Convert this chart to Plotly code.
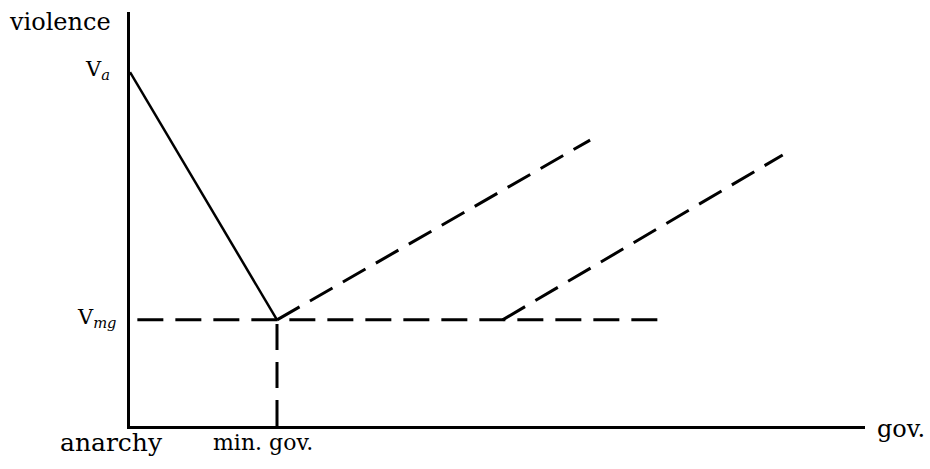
import plotly.graph_objects as go

# Abstract data units
V_A = 10.0          # violence under anarchy
V_MG = 3.0          # violence under minimal government
MIN_GOV = 2.0       # government level of the minimal state
X_MAX = 10.0
Y_MAX = 11.7

# solid segment: anarchy -> minimal government
solid_x = [0.0, MIN_GOV]
solid_y = [V_A, V_MG]

# dashed: rising right after minimal government
rise1_x = [MIN_GOV, 6.26]
rise1_y = [V_MG, 8.08]

# dashed: flat at V_mg
flat_x = [0.1, 7.25]
flat_y = [V_MG, V_MG]

# dashed: rising later
rise2_x = [5.07, 8.88]
rise2_y = [V_MG, 7.66]

# dashed drop line from minimal government
drop_x = [MIN_GOV, MIN_GOV]
drop_y = [0.0, V_MG]

SERIF = "DejaVu Serif"
DASH = "26px,12px"

fig = go.Figure()
fig.add_trace(go.Scatter(x=solid_x, y=solid_y, mode="lines",
                         line=dict(color="black", width=2.5)))
for xs, ys in [(rise1_x, rise1_y), (flat_x, flat_y), (rise2_x, rise2_y), (drop_x, drop_y)]:
    fig.add_trace(go.Scatter(x=xs, y=ys, mode="lines",
                             line=dict(color="black", width=3, dash=DASH)))

ann = []
ann.append(dict(x=0, y=Y_MAX, xref="x", yref="y", text="violence", showarrow=False,
                xanchor="right", yanchor="middle", xshift=-17, yshift=-10,
                font=dict(family=SERIF, size=24, color="black")))
ann.append(dict(x=0, y=V_A, xref="x", yref="y", text="V<sub><i>a</i></sub>", showarrow=False,
                xanchor="right", yanchor="middle", xshift=-18, yshift=2,
                font=dict(family=SERIF, size=21, color="black")))
ann.append(dict(x=0, y=V_MG, xref="x", yref="y", text="V<sub><i>mg</i></sub>", showarrow=False,
                xanchor="right", yanchor="middle", xshift=-11, yshift=2,
                font=dict(family=SERIF, size=21, color="black")))
ann.append(dict(x=0, y=0, xref="x", yref="y", text="anarchy", showarrow=False,
                xanchor="center", yanchor="middle", xshift=-19, yshift=-16,
                font=dict(family=SERIF, size=25, color="black")))
ann.append(dict(x=MIN_GOV, y=0, xref="x", yref="y", text="min. gov.", showarrow=False,
                xanchor="center", yanchor="middle", xshift=-14, yshift=-16,
                font=dict(family=SERIF, size=22, color="black")))
ann.append(dict(x=X_MAX, y=0, xref="x", yref="y", text="gov.", showarrow=False,
                xanchor="left", yanchor="middle", xshift=10, yshift=-3,
                font=dict(family=SERIF, size=24, color="black")))

fig.update_layout(
    width=930, height=469,
    margin=dict(l=130, r=65, t=12, b=43),
    paper_bgcolor="white", plot_bgcolor="white",
    showlegend=False,
    annotations=ann,
    xaxis=dict(range=[0, X_MAX], showgrid=False, zeroline=False, showticklabels=False,
               ticks="", showline=True, linecolor="black", linewidth=3, fixedrange=True),
    yaxis=dict(range=[0, Y_MAX], showgrid=False, zeroline=False, showticklabels=False,
               ticks="", showline=True, linecolor="black", linewidth=3, fixedrange=True),
)

fig.write_html("out.html", config={"displayModeBar": False},
               post_script="document.body.style.margin='0';")
